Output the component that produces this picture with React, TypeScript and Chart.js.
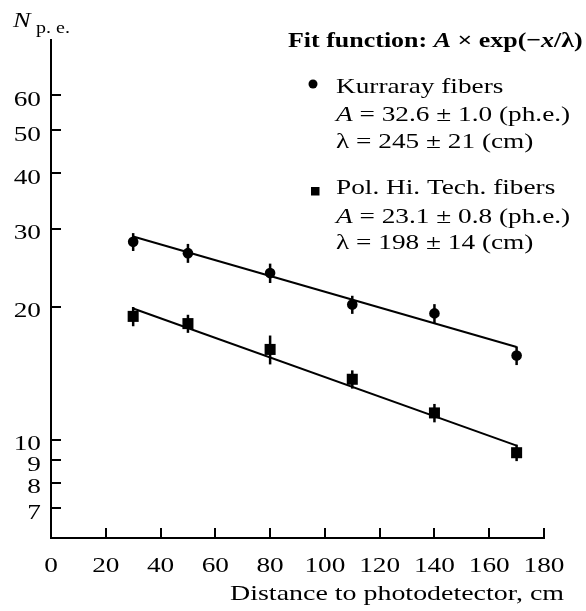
import React, { useEffect, useRef } from "react";
import { Chart, registerables } from "chart.js";

Chart.register(...registerables);

// ---- data ----
const xValues = [30, 50, 80, 110, 140, 170];
const kurraray = [28.0, 26.4, 23.8, 20.2, 19.3, 15.5];
const kurrarayErr = [1.3, 1.3, 1.2, 0.95, 0.95, 0.75];
const polHiTech = [19.0, 18.3, 16.0, 13.7, 11.5, 9.35];
const polHiTechErr = [0.95, 0.86, 1.2, 0.65, 0.55, 0.4];
const fitX = [30, 170];
const kurrarayFit = [28.8, 16.2];
const polHiTechFit = [19.8, 9.7];
const xTicks = [0, 20, 40, 60, 80, 100, 120, 140, 160, 180];
const yTicks = [7, 8, 9, 10, 20, 30, 40, 50, 60];

const SERIF = '"Liberation Serif", "Times New Roman", serif';

type Run = { t: string; f: string };

function drawRuns(
  ctx: CanvasRenderingContext2D,
  runs: Run[],
  x: number,
  y: number,
  sx: number,
  align: "left" | "right" | "center" = "left"
) {
  ctx.save();
  let total = 0;
  for (const r of runs) {
    ctx.font = r.f;
    total += ctx.measureText(r.t).width;
  }
  ctx.translate(x, y);
  ctx.scale(sx, 1);
  let cx = align === "left" ? 0 : align === "right" ? -total : -total / 2;
  ctx.textAlign = "left";
  ctx.textBaseline = "alphabetic";
  ctx.fillStyle = "#000";
  for (const r of runs) {
    ctx.font = r.f;
    ctx.fillText(r.t, cx, 0);
    cx += ctx.measureText(r.t).width;
  }
  ctx.restore();
}

const decorPlugin = {
  id: "decor",
  afterDatasetsDraw(chart: any) {
    const ctx: CanvasRenderingContext2D = chart.ctx;
    const xs = chart.scales.x;
    const ys = chart.scales.y;

    // error bars
    ctx.save();
    ctx.strokeStyle = "#000";
    ctx.lineWidth = 2.5;
    const series: [number[], number[]][] = [
      [kurraray, kurrarayErr],
      [polHiTech, polHiTechErr],
    ];
    for (const [vals, errs] of series) {
      vals.forEach((v, i) => {
        const px = xs.getPixelForValue(xValues[i]);
        const y1 = ys.getPixelForValue(v - errs[i]);
        const y2 = ys.getPixelForValue(v + errs[i]);
        ctx.beginPath();
        ctx.moveTo(px, y1);
        ctx.lineTo(px, y2);
        ctx.stroke();
      });
    }
    ctx.restore();
  },
  afterDraw(chart: any) {
    const ctx: CanvasRenderingContext2D = chart.ctx;
    const xs = chart.scales.x;
    const ys = chart.scales.y;
    const area = chart.chartArea;

    // inward tick marks
    ctx.save();
    ctx.strokeStyle = "#000";
    ctx.lineWidth = 2;
    for (const v of xTicks) {
      if (v === 0) continue;
      const px = Math.round(xs.getPixelForValue(v));
      ctx.beginPath();
      ctx.moveTo(px, area.bottom);
      ctx.lineTo(px, area.bottom - 10);
      ctx.stroke();
    }
    for (const v of yTicks) {
      const py = Math.round(ys.getPixelForValue(v));
      ctx.beginPath();
      ctx.moveTo(area.left, py);
      ctx.lineTo(area.left + 10, py);
      ctx.stroke();
    }
    ctx.restore();

    const tickFont = `22px ${SERIF}`;
    // x tick labels
    for (const v of xTicks) {
      const px = xs.getPixelForValue(v);
      drawRuns(ctx, [{ t: String(v), f: tickFont }], px, area.bottom + 34, 1.24, "center");
    }
    // y tick labels
    for (const v of yTicks) {
      const py = ys.getPixelForValue(v);
      drawRuns(ctx, [{ t: String(v), f: tickFont }], area.left - 10, py + 10.5, 1.24, "right");
    }

    // axis titles
    drawRuns(ctx, [{ t: "Distance to photodetector, cm", f: `21px ${SERIF}` }], 564, 600, 1.33, "right");
    drawRuns(ctx, [{ t: "N", f: `italic 22px ${SERIF}` }], 13, 27, 1.2, "left");
    drawRuns(ctx, [{ t: "p. e.", f: `16px ${SERIF}` }], 36, 33, 1.25, "left");

    // fit annotation / legend
    const B = `bold 22px ${SERIF}`;
    const BI = `bold italic 22px ${SERIF}`;
    drawRuns(
      ctx,
      [
        { t: "Fit function: ", f: B },
        { t: "A", f: BI },
        { t: " \u00d7 exp(\u2212", f: B },
        { t: "x", f: BI },
        { t: "/\u03bb)", f: B },
      ],
      288,
      47,
      1.18,
      "left"
    );
    const R = `22px ${SERIF}`;
    const I = `italic 22px ${SERIF}`;
    const lx = 336;
    const sx = 1.24;
    drawRuns(ctx, [{ t: "Kurraray fibers", f: R }], lx, 92.7, sx);
    drawRuns(ctx, [{ t: "A", f: I }, { t: " = 32.6 \u00b1 1.0 (ph.e.)", f: R }], lx, 120.7, sx);
    drawRuns(ctx, [{ t: "\u03bb = 245 \u00b1 21 (cm)", f: R }], lx, 148.3, sx);
    drawRuns(ctx, [{ t: "Pol. Hi. Tech. fibers", f: R }], lx, 194.3, sx);
    drawRuns(ctx, [{ t: "A", f: I }, { t: " = 23.1 \u00b1 0.8 (ph.e.)", f: R }], lx, 222.7, sx);
    drawRuns(ctx, [{ t: "\u03bb = 198 \u00b1 14 (cm)", f: R }], lx, 249.3, sx);

    // legend markers
    ctx.save();
    ctx.fillStyle = "#000";
    ctx.beginPath();
    ctx.arc(313, 84, 4.5, 0, Math.PI * 2);
    ctx.fill();
    ctx.fillRect(311, 187, 8.5, 8.5);
    ctx.restore();
  },
};

export default function App() {
  const ref = useRef<HTMLCanvasElement | null>(null);

  useEffect(() => {
    if (!ref.current) return;
    const chart = new Chart(ref.current, {
      type: "scatter",
      data: {
        datasets: [
          {
            type: "line",
            label: "Kurraray fit",
            data: fitX.map((x, i) => ({ x, y: kurrarayFit[i] })),
            borderColor: "#000",
            borderWidth: 2,
            pointRadius: 0,
            fill: false,
          },
          {
            type: "line",
            label: "Pol. Hi. Tech. fit",
            data: fitX.map((x, i) => ({ x, y: polHiTechFit[i] })),
            borderColor: "#000",
            borderWidth: 2,
            pointRadius: 0,
            fill: false,
          },
          {
            label: "Kurraray fibers",
            data: xValues.map((x, i) => ({ x, y: kurraray[i] })),
            pointStyle: "circle",
            pointRadius: 5.3,
            backgroundColor: "#000",
            borderColor: "#000",
            borderWidth: 0,
          },
          {
            label: "Pol. Hi. Tech. fibers",
            data: xValues.map((x, i) => ({ x, y: polHiTech[i] })),
            pointStyle: "rect",
            pointRadius: 7.8,
            backgroundColor: "#000",
            borderColor: "#000",
            borderWidth: 0,
          },
        ],
      },
      options: {
        animation: false,
        responsive: false,
        devicePixelRatio: 1,
        layout: { padding: { top: 40, right: 42, left: 0, bottom: 0 } },
        plugins: { legend: { display: false }, tooltip: { enabled: false } },
        scales: {
          x: {
            type: "linear",
            min: 0,
            max: 180,
            grid: { display: false },
            border: { display: true, color: "#000", width: 2 },
            ticks: { display: false },
            afterFit: (s: any) => {
              s.height = 73;
            },
          },
          y: {
            type: "logarithmic",
            min: 6,
            max: 80,
            grid: { display: false },
            border: { display: true, color: "#000", width: 2 },
            ticks: { display: false },
            afterFit: (s: any) => {
              s.width = 51;
            },
          },
        },
      } as any,
      plugins: [decorPlugin],
    });
    return () => chart.destroy();
  }, []);

  return (
    <div style={{ position: "absolute", left: 0, top: 0, width: 586, height: 611, background: "#fff" }}>
      <canvas ref={ref} width={586} height={611} style={{ display: "block" }} />
    </div>
  );
}
